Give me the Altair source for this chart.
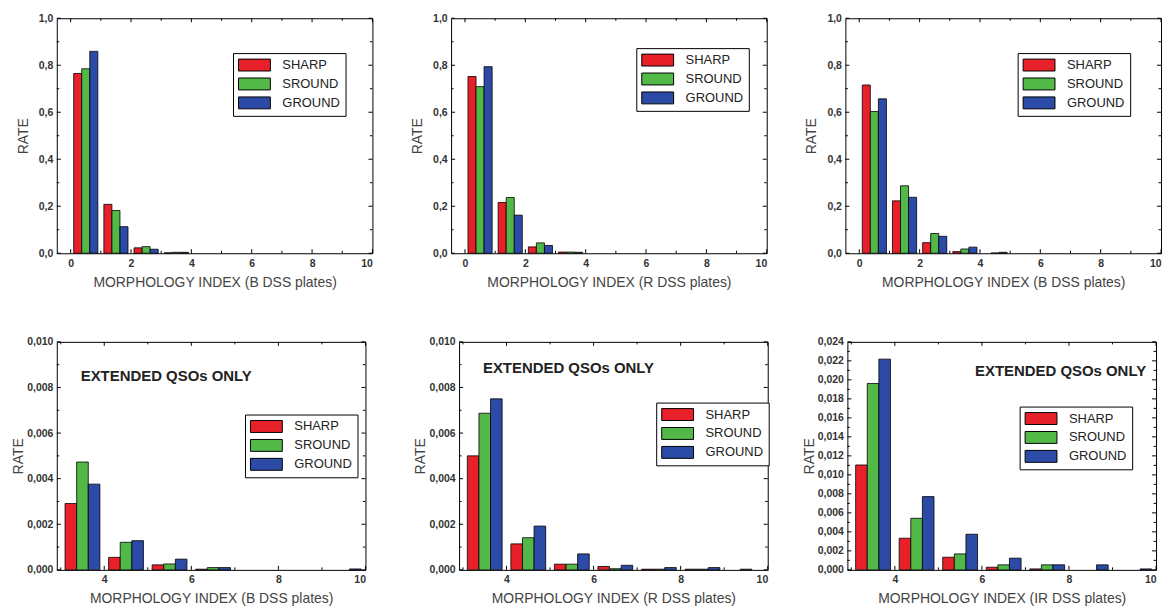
import altair as alt
import pandas as pd

FONT = "Liberation Sans"
series = ["SHARP", "SROUND", "GROUND"]
colors = ["#E8202A", "#52B948", "#2B4BA6"]

# ---- top row: all QSOs (bins 0..4)
top_bins = [0, 1, 2, 3, 4]
p1_sharp = [0.765, 0.208, 0.023, 0.002, 0.0]
p1_sround = [0.785, 0.182, 0.028, 0.004, 0.0]
p1_ground = [0.859, 0.113, 0.017, 0.004, 0.0]

p2_sharp = [0.752, 0.216, 0.027, 0.005, 0.0]
p2_sround = [0.709, 0.237, 0.044, 0.005, 0.0]
p2_ground = [0.794, 0.162, 0.033, 0.004, 0.0]

p3_sharp = [0.716, 0.223, 0.045, 0.007, 0.0]
p3_sround = [0.603, 0.287, 0.084, 0.018, 0.001]
p3_ground = [0.657, 0.238, 0.072, 0.026, 0.004]

# ---- bottom row: extended QSOs only (bins 3..9)
bot_bins = [3, 4, 5, 6, 7, 8, 9]
p4_sharp = [0.00291, 0.00055, 0.00022, 0.00003, 0.0, 0.0, 0.0]
p4_sround = [0.00473, 0.00121, 0.00026, 0.00010, 0.0, 0.0, 0.0]
p4_ground = [0.00376, 0.00128, 0.00047, 0.00010, 0.0, 0.0, 0.00004]

p5_sharp = [0.00500, 0.00114, 0.00025, 0.00015, 0.00003, 0.00003, 0.0]
p5_sround = [0.00687, 0.00141, 0.00025, 0.00005, 0.00003, 0.00003, 0.00003]
p5_ground = [0.00750, 0.00192, 0.00070, 0.00020, 0.00010, 0.00010, 0.0]

p6_sharp = [0.01104, 0.00333, 0.00133, 0.00028, 0.00010, 0.0, 0.0]
p6_sround = [0.01962, 0.00543, 0.00168, 0.00053, 0.00053, 0.0, 0.0]
p6_ground = [0.02218, 0.00771, 0.00375, 0.00123, 0.00053, 0.00053, 0.00010]

top_xmaj = [0, 2, 4, 6, 8, 10]
top_xmin = [1, 3, 5, 7, 9]
top_ymaj = [0.0, 0.2, 0.4, 0.6, 0.8, 1.0]
top_ymin = [0.1, 0.3, 0.5, 0.7, 0.9]
bot_xmaj = [4, 6, 8, 10]
bot_xmin = [3, 5, 7, 9]
b_ymaj = [0.0, 0.002, 0.004, 0.006, 0.008, 0.010]
b_ymin = [0.001, 0.003, 0.005, 0.007, 0.009]
c_ymaj = [i * 0.002 for i in range(13)]
c_ymin = [0.001 + i * 0.002 for i in range(12)]

ANNOT = "EXTENDED QSOs ONLY"
SWATCH = "M-2.46,-0.92H2.46V0.92H-2.46Z"
MAJ, MIN = 4, 2.5


def make_df(bins, vals):
    w = 0.8 / 3
    rows = []
    for k, (s, v) in enumerate(zip(series, vals)):
        for b, r in zip(bins, v):
            if r > 0:
                x0 = b + 0.1 + k * w
                rows.append({"series": s, "x0": x0, "x1": x0 + w, "rate": r})
    return pd.DataFrame(rows)


def panel(bins, vals, xdom, ydom, W, H, xmaj, xmin, ymaj, ymin, ydec,
          xtitle, leg, ann=None, ytp=8, xtp=7):
    df = make_df(bins, vals)
    xs = alt.Scale(domain=xdom, nice=False, zero=False)
    ys = alt.Scale(domain=ydom, nice=False, zero=False)
    yexpr = f"replace(format(datum.value, '.{ydec}f'), '.', ',')"
    bars = alt.Chart(df).mark_bar(stroke="black", strokeWidth=0.8).encode(
        x=alt.X("x0:Q", scale=xs,
                axis=alt.Axis(values=xmaj, format="d", title=xtitle, ticks=False,
                              tickSize=0, domain=False, grid=False,
                              labelPadding=5, titlePadding=xtp)),
        x2="x1:Q",
        y=alt.Y("rate:Q", scale=ys,
                axis=alt.Axis(values=ymaj, labelExpr=yexpr, title="RATE",
                              ticks=False, tickSize=0, domain=False, grid=False,
                              labelPadding=4, titlePadding=ytp)),
        y2=alt.datum(0),
        color=alt.Color("series:N",
                        scale=alt.Scale(domain=series, range=colors),
                        legend=alt.Legend(orient="none", legendX=leg[0], legendY=leg[1],
                                          title=None, strokeColor="black",
                                          fillColor="white", padding=5,
                                          symbolType=SWATCH, symbolSize=169,
                                          symbolStrokeColor="black",
                                          symbolStrokeWidth=1, symbolOffset=9.5,
                                          labelOffset=21, labelFont=FONT,
                                          labelFontSize=13, labelColor="#222",
                                          rowPadding=3)),
    )
    layers = [bars]
    # inward ticks on all four sides (values from the tick arrays, placed by the scales)
    for vals_x, vals_y, L in [(xmaj, ymaj, MAJ), (xmin, ymin, MIN)]:
        tx = pd.DataFrame({"v": vals_x})
        ty = pd.DataFrame({"v": vals_y})
        for y0, y1 in [(H, H - L), (0, L)]:
            layers.append(alt.Chart(tx).mark_rule(color="black", strokeWidth=1).encode(
                x=alt.X("v:Q", scale=xs, axis=None),
                y=alt.value(y0), y2=alt.value(y1)))
        for x0, x1 in [(0, L), (W, W - L)]:
            layers.append(alt.Chart(ty).mark_rule(color="black", strokeWidth=1).encode(
                y=alt.Y("v:Q", scale=ys, axis=None),
                x=alt.value(x0), x2=alt.value(x1)))
    if ann is not None:
        layers.append(
            alt.Chart(pd.DataFrame({"t": [ANNOT]})).mark_text(
                font=FONT, fontSize=15, fontWeight="bold", color="#222",
                align=ann[2], baseline="middle").encode(
                text="t:N", x=alt.value(ann[0]), y=alt.value(ann[1]))
        )
    return alt.layer(*layers).resolve_axis(x="independent", y="independent").properties(
        width=W, height=H)


TW, TH = 317, 236
BW, BH = 310, 229

c1 = panel(top_bins, [p1_sharp, p1_sround, p1_ground], [-0.46, 10], [0, 1.0], TW, TH,
           top_xmaj, top_xmin, top_ymaj, top_ymin, 1,
           "MORPHOLOGY INDEX (B DSS plates)", (177, 35))
c2 = panel(top_bins, [p2_sharp, p2_sround, p2_ground], [-0.46, 10], [0, 1.0], TW, TH,
           top_xmaj, top_xmin, top_ymaj, top_ymin, 1,
           "MORPHOLOGY INDEX (R DSS plates)", (186, 30))
c3 = panel(top_bins, [p3_sharp, p3_sround, p3_ground], [-0.46, 10], [0, 1.0], TW, TH,
           top_xmaj, top_xmin, top_ymaj, top_ymin, 1,
           "MORPHOLOGY INDEX (B DSS plates)", (173, 35))
c4 = panel(bot_bins, [p4_sharp, p4_sround, p4_ground], [2.91, 10], [0, 0.010], BW, BH,
           bot_xmaj, bot_xmin, b_ymaj, b_ymin, 3,
           "MORPHOLOGY INDEX (B DSS plates)", (189, 73), (24, 34, "left"), ytp=1, xtp=6)
c5 = panel(bot_bins, [p5_sharp, p5_sround, p5_ground], [2.91, 10], [0, 0.010], BW, BH,
           bot_xmaj, bot_xmin, b_ymaj, b_ymin, 3,
           "MORPHOLOGY INDEX (R DSS plates)", (198, 61), (24, 26, "left"), ytp=1, xtp=6)
c6 = panel(bot_bins, [p6_sharp, p6_sround, p6_ground], [2.91, 10], [0, 0.024], BW, BH,
           bot_xmaj, bot_xmin, c_ymaj, c_ymin, 3,
           "MORPHOLOGY INDEX (IR DSS plates)", (173, 65), (300, 29, "right"), ytp=1, xtp=6)

top = alt.hconcat(c1, c2, c3, spacing=36).resolve_legend(color="independent")
bottom_left = alt.hconcat(c4, c5, spacing=47).resolve_legend(color="independent")
bottom = alt.hconcat(bottom_left, c6, spacing=32).resolve_legend(color="independent")

chart = alt.vconcat(top, bottom, spacing=46).resolve_legend(color="independent").properties(
    padding={"left": 3, "top": 3, "right": 5, "bottom": 2},
    background="white",
).configure_view(
    stroke="black", strokeWidth=1
).configure_axis(
    labelFont=FONT, labelFontSize=10.5, labelFontWeight="bold", labelColor="#333",
    titleFont=FONT, titleFontSize=14, titleFontWeight="normal", titleColor="#444",
)

chart.save("out.html", embed_options={"renderer": "svg", "actions": False})
